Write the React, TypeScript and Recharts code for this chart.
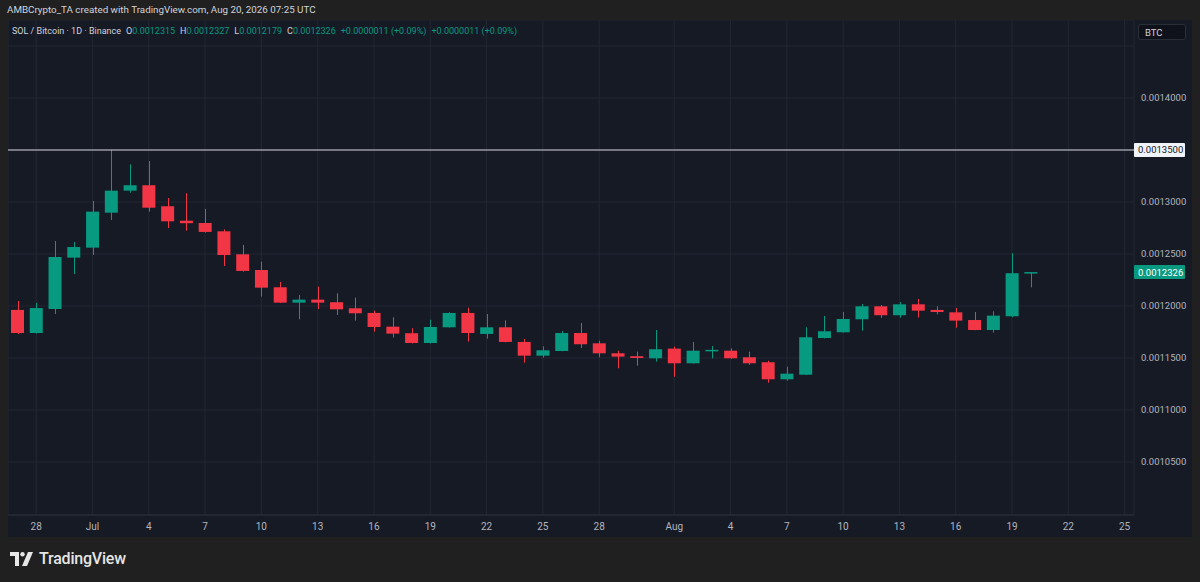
import React from 'react';
import { ComposedChart, Bar, XAxis, YAxis, CartesianGrid, ReferenceLine } from 'recharts';

// one category per day, including the empty days on the right of the last candle
const dates = [
  'Jun 27', 'Jun 28', 'Jun 29', 'Jun 30',
  'Jul 1', 'Jul 2', 'Jul 3', 'Jul 4', 'Jul 5', 'Jul 6', 'Jul 7', 'Jul 8', 'Jul 9', 'Jul 10',
  'Jul 11', 'Jul 12', 'Jul 13', 'Jul 14', 'Jul 15', 'Jul 16', 'Jul 17', 'Jul 18', 'Jul 19', 'Jul 20',
  'Jul 21', 'Jul 22', 'Jul 23', 'Jul 24', 'Jul 25', 'Jul 26', 'Jul 27', 'Jul 28', 'Jul 29', 'Jul 30', 'Jul 31',
  'Aug 1', 'Aug 2', 'Aug 3', 'Aug 4', 'Aug 5', 'Aug 6', 'Aug 7', 'Aug 8', 'Aug 9', 'Aug 10',
  'Aug 11', 'Aug 12', 'Aug 13', 'Aug 14', 'Aug 15', 'Aug 16', 'Aug 17', 'Aug 18', 'Aug 19', 'Aug 20',
  'Aug 21', 'Aug 22', 'Aug 23', 'Aug 24', 'Aug 25',
];

const opens = [
  0.0011962, 0.0011740, 0.0011971, 0.0012465, 0.0012561, 0.0012897, 0.0013109, 0.0013161, 0.0012959, 0.0012820,
  0.0012798, 0.0012718, 0.0012497, 0.0012346, 0.0012180, 0.0012032, 0.0012061, 0.0012036, 0.0011978, 0.0011933,
  0.0011801, 0.0011738, 0.0011644, 0.0011795, 0.0011933, 0.0011731, 0.0011795, 0.0011654, 0.0011522, 0.0011567,
  0.0011740, 0.0011641, 0.0011545, 0.0011517, 0.0011497, 0.0011590, 0.0011449, 0.0011572, 0.0011570, 0.0011507,
  0.0011459, 0.0011295, 0.0011339, 0.0011692, 0.0011747, 0.0011872, 0.0011997, 0.0011911, 0.0012016, 0.0011962,
  0.0011939, 0.0011865, 0.0011769, 0.0011901, 0.0012315,
];
const highs = [
  0.0012048, 0.0012030, 0.0012625, 0.0012615, 0.0013010, 0.0013500, 0.0013362, 0.0013394, 0.0013038, 0.0013084,
  0.0012933, 0.0012737, 0.0012587, 0.0012426, 0.0012231, 0.0012106, 0.0012186, 0.0012122, 0.0012080, 0.0011955,
  0.0011891, 0.0011786, 0.0011868, 0.0011940, 0.0011984, 0.0011923, 0.0011862, 0.0011683, 0.0011612, 0.0011760,
  0.0011837, 0.0011666, 0.0011570, 0.0011561, 0.0011769, 0.0011609, 0.0011654, 0.0011615, 0.0011593, 0.0011561,
  0.0011474, 0.0011416, 0.0011795, 0.0011904, 0.0011942, 0.0012019, 0.0012010, 0.0012038, 0.0012067, 0.0011997,
  0.0011981, 0.0011942, 0.0011949, 0.0012507, 0.0012327,
];
const lows = [
  0.0011730, 0.0011735, 0.0011923, 0.0012308, 0.0012490, 0.0012827, 0.0013089, 0.0012907, 0.0012750, 0.0012724,
  0.0012705, 0.0012385, 0.0012330, 0.0012090, 0.0012028, 0.0011872, 0.0011971, 0.0011913, 0.0011859, 0.0011753,
  0.0011696, 0.0011640, 0.0011640, 0.0011792, 0.0011657, 0.0011686, 0.0011650, 0.0011455, 0.0011503, 0.0011565,
  0.0011596, 0.0011507, 0.0011401, 0.0011426, 0.0011465, 0.0011320, 0.0011447, 0.0011497, 0.0011492, 0.0011433,
  0.0011262, 0.0011282, 0.0011337, 0.0011688, 0.0011745, 0.0011763, 0.0011885, 0.0011888, 0.0011888, 0.0011920,
  0.0011791, 0.0011767, 0.0011743, 0.0011892, 0.0012179,
];
const closes = [
  0.0011740, 0.0011980, 0.0012471, 0.0012567, 0.0012907, 0.0013109, 0.0013161, 0.0012945, 0.0012814, 0.0012796,
  0.0012712, 0.0012490, 0.0012337, 0.0012176, 0.0012032, 0.0012061, 0.0012032, 0.0011968, 0.0011930, 0.0011798,
  0.0011734, 0.0011644, 0.0011798, 0.0011933, 0.0011740, 0.0011795, 0.0011654, 0.0011522, 0.0011574, 0.0011740,
  0.0011632, 0.0011545, 0.0011513, 0.0011500, 0.0011584, 0.0011449, 0.0011570, 0.0011578, 0.0011497, 0.0011449,
  0.0011295, 0.0011349, 0.0011699, 0.0011757, 0.0011875, 0.0011997, 0.0011911, 0.0012016, 0.0011955, 0.0011942,
  0.0011859, 0.0011769, 0.0011907, 0.0012315, 0.0012326,
];

const tickDates = [
  'Jun 28', 'Jul 1', 'Jul 4', 'Jul 7', 'Jul 10', 'Jul 13', 'Jul 16', 'Jul 19', 'Jul 22', 'Jul 25',
  'Jul 28', 'Aug 1', 'Aug 4', 'Aug 7', 'Aug 10', 'Aug 13', 'Aug 16', 'Aug 19', 'Aug 22', 'Aug 25',
];
const tickLabels = ['28', 'Jul', '4', '7', '10', '13', '16', '19', '22', '25', '28', 'Aug', '4', '7', '10', '13', '16', '19', '22', '25'];

const priceTicks = [0.00105, 0.0011, 0.00115, 0.0012, 0.00125, 0.0013, 0.00135, 0.0014, 0.00145];
const hiddenPriceLabels = [0.00135, 0.00145];
const keyLevel = 0.00135;
const lastClose = 0.0012326;

const UP = '#089981';
const DOWN = '#f23645';
const TEXT = '#b2b5be';
const FONT = 'Roboto, "Noto Sans", sans-serif';

const data = dates.map((d, i) => ({
  d,
  o: i < opens.length ? opens[i] : null,
  h: i < highs.length ? highs[i] : null,
  l: i < lows.length ? lows[i] : null,
  c: i < closes.length ? closes[i] : null,
}));

const Candle = (props: any) => {
  const { x, y, width, height, payload } = props;
  if (!payload || payload.o == null) return null;
  const top = Math.min(y, y + height);
  const bottom = Math.max(y, y + height);
  const range = payload.h - payload.l;
  const toY = (p: number) => (range === 0 ? top : top + ((payload.h - p) / range) * (bottom - top));
  const color = payload.c >= payload.o ? UP : DOWN;
  const bTop = toY(Math.max(payload.o, payload.c));
  const bBot = toY(Math.min(payload.o, payload.c));
  const cx = Math.round(x + width / 2) + 0.5;
  return (
    <g>
      <line x1={cx} x2={cx} y1={top} y2={bottom} stroke={color} strokeWidth={1} />
      <rect x={x} y={bTop} width={width} height={Math.max(1.5, bBot - bTop)} fill={color} />
    </g>
  );
};

const PriceTick = (props: any) => {
  const { x, y, payload } = props;
  if (hiddenPriceLabels.includes(payload.value)) return null;
  return (
    <text x={x - 1} y={y} dy={3.5} fill={TEXT} fontSize={9.5} fontFamily={FONT} textAnchor="start">
      {Number(payload.value).toFixed(7)}
    </text>
  );
};

const PriceTag = (props: any) => {
  const { viewBox, bg, fg, text } = props;
  if (!viewBox) return null;
  const x = viewBox.x + viewBox.width;
  return (
    <g>
      <rect x={x} y={viewBox.y - 7} width={51} height={14} fill={bg} rx={1} />
      <text x={x + 4} y={viewBox.y} dy={3.5} fill={fg} fontSize={9.5} fontFamily={FONT}>{text}</text>
    </g>
  );
};

const gap = { marginLeft: 5 };

const App: React.FC = () => {
  return (
    <div style={{ position: 'absolute', left: 0, top: 0, width: 1200, height: 582, background: '#202020', fontFamily: FONT, overflow: 'hidden' }}>
      <div style={{ position: 'absolute', left: 7, top: 4, fontSize: 9.8, color: '#d1d4dc', whiteSpace: 'nowrap' }}>
        AMBCrypto_TA created with TradingView.com, Aug 20, 2026 07:25 UTC
      </div>

      <div style={{ position: 'absolute', left: 8, top: 20, width: 1184, height: 517, background: '#161a25' }}>
        <ComposedChart width={1184} height={517} data={data} margin={{ top: 0, right: 0, bottom: 0, left: 0 }}>
          <CartesianGrid stroke="#232733" strokeWidth={1} />
          <XAxis
            dataKey="d"
            ticks={tickDates}
            interval={0}
            tickFormatter={(v: string) => tickLabels[tickDates.indexOf(v)] ?? ''}
            tickLine={false}
            axisLine={{ stroke: '#2a2e39' }}
            tick={{ fill: TEXT, fontSize: 10, fontFamily: FONT }}
            height={22}
          />
          <YAxis
            orientation="right"
            width={58}
            domain={[0.000999, 0.001475]}
            allowDataOverflow
            ticks={priceTicks}
            interval={0}
            tickLine={false}
            axisLine={false}
            tick={<PriceTick />}
          />
          <Bar
            dataKey={(e: any) => (e.o == null ? null : [e.l, e.h])}
            barSize={13}
            shape={<Candle />}
            isAnimationActive={false}
          />
          <ReferenceLine
            y={keyLevel}
            stroke="#d1d4dc"
            strokeWidth={1.2}
            label={<PriceTag bg="#f0f3fa" fg="#131722" text="0.0013500" />}
          />
          <ReferenceLine
            y={lastClose}
            stroke="transparent"
            label={<PriceTag bg={UP} fg="#ffffff" text="0.0012326" />}
          />
        </ComposedChart>

        <div style={{ position: 'absolute', left: 4, top: 6, fontSize: 9, color: '#d1d4dc', whiteSpace: 'nowrap' }}>
          SOL / Bitcoin · 1D · Binance
          <span style={gap}>O<span style={{ color: UP }}>0.0012315</span></span>
          <span style={gap}>H<span style={{ color: UP }}>0.0012327</span></span>
          <span style={gap}>L<span style={{ color: UP }}>0.0012179</span></span>
          <span style={gap}>C<span style={{ color: UP }}>0.0012326</span></span>
          <span style={{ ...gap, color: UP }}>+0.0000011 (+0.09%)</span>
          <span style={{ ...gap, color: UP }}>+0.0000011 (+0.09%)</span>
        </div>

        <div style={{ position: 'absolute', left: 1130, top: 4, width: 48, height: 16, borderRadius: 3, background: '#0f121a', border: '1px solid #2a2e39', color: '#d1d4dc', fontSize: 9.5, lineHeight: '15px', paddingLeft: 6, boxSizing: 'border-box' }}>
          BTC
        </div>
      </div>

      <div style={{ position: 'absolute', left: 10, top: 549, display: 'flex', alignItems: 'center', color: '#e6e6e6' }}>
        <svg width={24} height={14} viewBox="0 0 24 14">
          <path d="M0 0 H9 V14 H5 V4 H0 Z" fill="#e6e6e6" />
          <circle cx={12.5} cy={2.2} r={2.2} fill="#e6e6e6" />
          <path d="M18 0 H23 L17 14 H12 Z" fill="#e6e6e6" />
        </svg>
        <span style={{ marginLeft: 5, fontSize: 16, fontWeight: 500, letterSpacing: -0.2 }}>TradingView</span>
      </div>
    </div>
  );
};

export default App;
